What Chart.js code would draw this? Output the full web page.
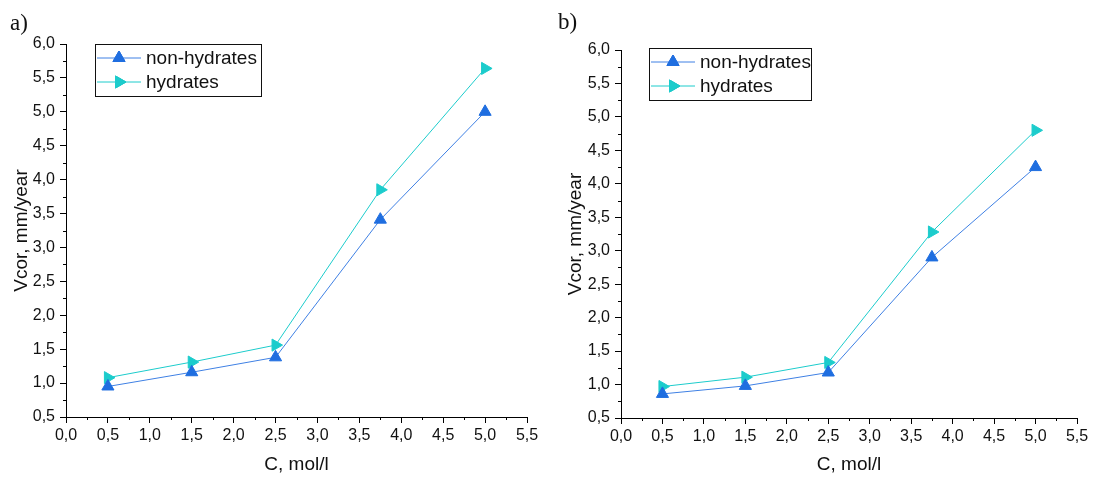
<!DOCTYPE html>
<html>
<head>
<meta charset="utf-8">
<script src="https://cdn.jsdelivr.net/npm/chart.js@4.4.1/dist/chart.umd.min.js"></script>
<style>
  body { margin: 0; background: #fff; width: 1094px; height: 477px; position: relative; overflow: hidden; }
  .panel { position: absolute; top: 0; width: 547px; height: 477px; }
  .tag { position: absolute; font-family: "Liberation Serif", serif; font-size: 23px; color: #111; line-height: 23px; }
</style>
</head>
<body>
<div class="panel" style="left:0"><canvas id="chartA" width="547" height="477"></canvas></div>
<div class="panel" style="left:547px"><canvas id="chartB" width="547" height="477"></canvas></div>
<div class="tag" style="left:10px; top:11px">a)</div>
<div class="tag" style="left:558px; top:10px">b)</div>
<script>
const concentrations = [0.5, 1.5, 2.5, 3.75, 5.0];

const nonHydratesA = [0.95, 1.16, 1.38, 3.41, 5.0];
const hydratesA = [1.08, 1.31, 1.56, 3.85, 5.64];

const nonHydratesB = [0.86, 0.98, 1.18, 2.9, 4.25];
const hydratesB = [0.97, 1.11, 1.33, 3.28, 4.8];

const seriesLabels = ["non-hydrates", "hydrates"];
const xTitle = "C, mol/l";
const yTitle = "Vcor, mm/year";

const blue = "#1f6ee0";
const blueLine = "#3f80e4";
const cyan = "#1ccccc";
const font = "'Liberation Sans', Arial, sans-serif";

function isMajor(v) {
  return Math.abs(v * 2 - Math.round(v * 2)) < 1e-6;
}

function commaLabel(v) {
  return isMajor(v) ? v.toFixed(1).replace(".", ",") : "";
}

// short minor ticks between the labelled ones
const minorTicks = {
  id: "minorTicks",
  afterDraw(chart) {
    const ctx = chart.ctx;
    const xs = chart.scales.x, ys = chart.scales.y;
    ctx.save();
    ctx.strokeStyle = "#000";
    ctx.lineWidth = 1;
    ctx.beginPath();
    xs.ticks.forEach(t => {
      if (isMajor(t.value)) return;
      const px = Math.round(xs.getPixelForValue(t.value)) + 0.5;
      ctx.moveTo(px, xs.top);
      ctx.lineTo(px, xs.top + 3);
    });
    ys.ticks.forEach(t => {
      if (isMajor(t.value)) return;
      const py = Math.round(ys.getPixelForValue(t.value)) + 0.5;
      ctx.moveTo(ys.right, py);
      ctx.lineTo(ys.right - 3, py);
    });
    ctx.stroke();
    ctx.restore();
  }
};

// boxed legend like the original plot
const boxLegend = {
  id: "boxLegend",
  afterDraw(chart, args, opts) {
    const ctx = chart.ctx;
    const area = chart.chartArea;
    const x0 = area.left + opts.dx, y0 = area.top + opts.dy;
    const w = opts.width, rowH = 24;
    ctx.save();
    ctx.fillStyle = "#fff";
    ctx.fillRect(x0, y0, w, rowH * 2 + 4);
    ctx.strokeStyle = "#111";
    ctx.lineWidth = 1;
    ctx.strokeRect(x0 + 0.5, y0 + 0.5, w, rowH * 2 + 4);
    chart.data.datasets.forEach((ds, i) => {
      const cy = y0 + 14 + i * rowH;
      ctx.strokeStyle = ds.borderColor;
      ctx.beginPath();
      ctx.moveTo(x0 + 2, cy);
      ctx.lineTo(x0 + 46, cy);
      ctx.stroke();
      Chart.helpers.drawPoint(ctx, {
        pointStyle: "triangle", radius: 7, rotation: ds.pointRotation,
        borderWidth: 1
      }, x0 + 24, cy);
      ctx.fillStyle = ds.pointBackgroundColor;
      ctx.strokeStyle = ds.pointBorderColor;
      ctx.fill();
      ctx.stroke();
      ctx.fillStyle = "#111";
      ctx.font = "19px " + font;
      ctx.textBaseline = "middle";
      ctx.fillText(ds.label, x0 + 51, cy + 1);
    });
    ctx.restore();
  }
};

function makeChart(id, nonHyd, hyd, geo) {
  return new Chart(document.getElementById(id), {
    type: "line",
    data: {
      datasets: [
        {
          label: seriesLabels[0],
          data: concentrations.map((c, i) => ({ x: c, y: nonHyd[i] })),
          borderColor: blueLine,
          borderWidth: 1,
          pointStyle: "triangle",
          pointRadius: 7,
          pointRotation: 0,
          pointBackgroundColor: blue,
          pointBorderColor: blue,
          pointBorderWidth: 1
        },
        {
          label: seriesLabels[1],
          data: concentrations.map((c, i) => ({ x: c, y: hyd[i] })),
          borderColor: cyan,
          borderWidth: 1,
          pointStyle: "triangle",
          pointRadius: 7,
          pointRotation: 90,
          pointBackgroundColor: cyan,
          pointBorderColor: cyan,
          pointBorderWidth: 1
        }
      ]
    },
    options: {
      responsive: false,
      animation: false,
      layout: { padding: { left: 0, top: geo.top, right: geo.right, bottom: 0 } },
      plugins: {
        legend: { display: false },
        tooltip: { enabled: false },
        boxLegend: geo.legend
      },
      scales: {
        x: {
          type: "linear",
          min: 0,
          max: 5.5,
          afterFit(scale) { scale.height = geo.xHeight; },
          border: { color: "#000", width: 1 },
          grid: {
            drawOnChartArea: false,
            tickLength: 6,
            tickColor: c => isMajor(c.tick.value) ? "#000" : "rgba(0,0,0,0)"
          },
          ticks: {
            stepSize: 0.25,
            autoSkip: false,
            maxRotation: 0,
            padding: 3,
            color: "#111",
            font: { family: font, size: 16 },
            callback: v => commaLabel(v)
          },
          title: {
            display: true,
            text: xTitle,
            color: "#111",
            font: { family: font, size: 19 },
            padding: { top: 0, bottom: 1 }
          }
        },
        y: {
          type: "linear",
          min: 0.5,
          max: 6,
          afterFit(scale) { scale.width = geo.yWidth; },
          border: { color: "#000", width: 1 },
          grid: {
            drawOnChartArea: false,
            tickLength: 6,
            tickColor: c => isMajor(c.tick.value) ? "#000" : "rgba(0,0,0,0)"
          },
          ticks: {
            stepSize: 0.25,
            autoSkip: false,
            padding: 5,
            color: "#111",
            font: { family: font, size: 16 },
            callback: v => commaLabel(v)
          },
          title: {
            display: true,
            text: yTitle,
            color: "#111",
            font: { family: font, size: 19 },
            padding: { top: geo.yTitlePad, bottom: 0 }
          }
        }
      }
    },
    plugins: [minorTicks, boxLegend]
  });
}

makeChart("chartA", nonHydratesA, hydratesA, {
  top: 44, right: 20, xHeight: 60, yWidth: 66, yTitlePad: 10,
  legend: { dx: 29, dy: 0, width: 166 }
});

makeChart("chartB", nonHydratesB, hydratesB, {
  top: 50, right: 17, xHeight: 59, yWidth: 74, yTitlePad: 17,
  legend: { dx: 28, dy: -2, width: 162 }
});
</script>
</body>
</html>
